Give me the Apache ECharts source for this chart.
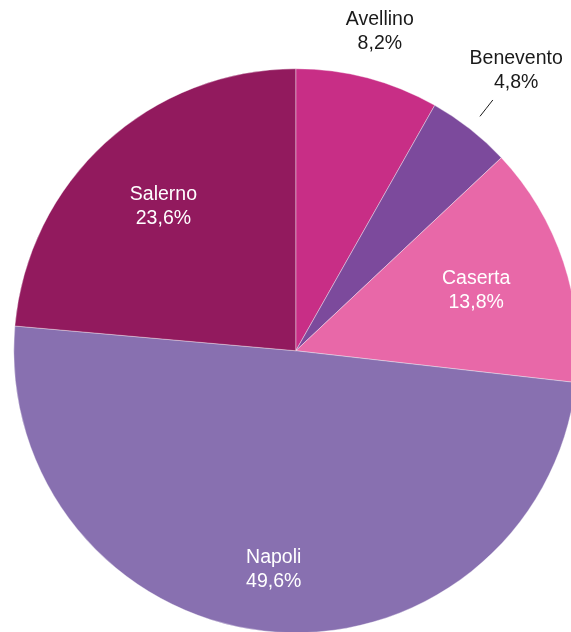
<!DOCTYPE html>
<html>
<head>
<meta charset="utf-8">
<script src="https://cdn.jsdelivr.net/npm/echarts@6/dist/echarts.min.js"></script>
<style>
html,body{margin:0;padding:0;background:#fff;}
#chart{width:571px;height:632px;}
</style>
</head>
<body>
<div id="chart"></div>
<script>
// Data
const categories = ['Avellino', 'Benevento', 'Caserta', 'Napoli', 'Salerno'];
const values = [8.2, 4.8, 13.8, 49.6, 23.6];
const colors = ['#C82E86', '#7C4A9C', '#E868A8', '#8870B0', '#921A5E'];

// Label placement (style): radius of label centre as a fraction of pie radius
const labelRadiusFactor = [1.17, 1.265, 0.674, 0.78, 0.695];
const outsideLabel = [true, true, false, false, false];
const leaderLine = [null, [1.057, 1.131], null, null, null];

const R = 282;
const CX = ['51.8%', '55.5%'];

const chart = echarts.init(document.getElementById('chart'));
const total = values.reduce((a, b) => a + b, 0);
const midAngles = [];
let acc = 0;
values.forEach(v => { midAngles.push((acc + v / 2) / total * 2 * Math.PI); acc += v; });

function fmt(v) { return v.toFixed(1).replace('.', ','); }

const data = categories.map((name, i) => ({
  name: name,
  value: values[i],
  itemStyle: { color: colors[i] },
  label: {
    color: outsideLabel[i] ? '#1a1a1a' : '#ffffff',
    position: outsideLabel[i] ? 'outside' : 'inside'
  },
  labelLine: { show: !!leaderLine[i] }
}));

function center() {
  const w = chart.getWidth(), h = chart.getHeight();
  return [parseFloat(CX[0]) / 100 * w, parseFloat(CX[1]) / 100 * h];
}

chart.setOption({
  animation: false,
  series: [{
    type: 'pie',
    center: CX,
    radius: [0, R],
    startAngle: 90,
    clockwise: true,
    avoidLabelOverlap: false,
    data: data,
    itemStyle: { borderColor: 'rgba(255,255,255,0.6)', borderWidth: 0.6 },
    label: {
      show: true,
      fontFamily: 'Liberation Sans, Arial, sans-serif',
      fontSize: 19.5,
      lineHeight: 24,
      align: 'center',
      formatter: p => p.name + '\n' + fmt(p.value) + '%'
    },
    labelLine: { lineStyle: { color: '#1a1a1a', width: 1 }, length: 10, length2: 0 },
    labelLayout: function (params) {
      const i = params.dataIndex;
      const c = center();
      const a = midAngles[i];
      const r = labelRadiusFactor[i] * R;
      const res = {
        x: c[0] + r * Math.sin(a),
        y: c[1] - r * Math.cos(a),
        align: 'center',
        verticalAlign: 'middle'
      };
      if (leaderLine[i]) {
        const r1 = leaderLine[i][0] * R, r2 = leaderLine[i][1] * R, rm = (r1 + r2) / 2;
        res.labelLinePoints = [
          [c[0] + r1 * Math.sin(a), c[1] - r1 * Math.cos(a)],
          [c[0] + rm * Math.sin(a), c[1] - rm * Math.cos(a)],
          [c[0] + r2 * Math.sin(a), c[1] - r2 * Math.cos(a)]
        ];
      }
      return res;
    }
  }]
});
</script>
</body>
</html>
